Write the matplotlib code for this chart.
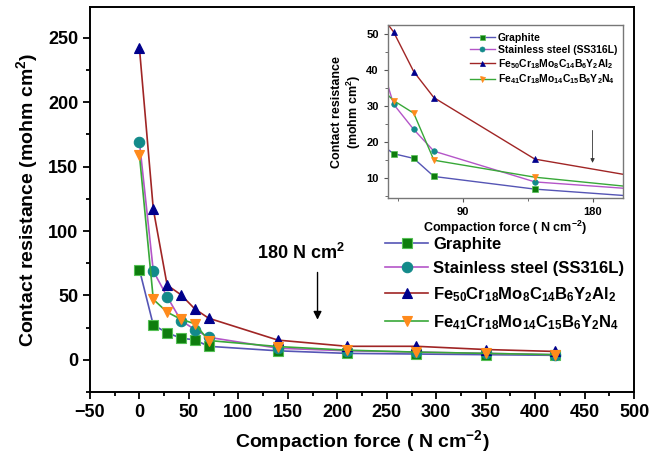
import matplotlib

matplotlib.use("Agg")
import matplotlib.pyplot as plt
from matplotlib.ticker import MultipleLocator

plt.rcParams["font.family"] = ["Liberation Sans", "DejaVu Sans"]
plt.rcParams["font.weight"] = "bold"
plt.rcParams["mathtext.fontset"] = "custom"
plt.rcParams["mathtext.rm"] = "Liberation Sans:bold"
plt.rcParams["mathtext.it"] = "Liberation Sans:bold"
plt.rcParams["mathtext.bf"] = "Liberation Sans:bold"
plt.rcParams["mathtext.default"] = "rm"

# compaction force (N cm^-2)
force = [0, 14, 28, 42, 56, 70, 140, 210, 280, 350, 420]
graphite = [70, 27, 21, 16.8, 15.5, 10.5, 7, 5, 4.5, 4, 3.5]
ss316l = [169, 69, 49, 30.5, 23.5, 17.5, 9, 7, 6, 5, 4]
fe50 = [242, 117, 58, 50.5, 39.5, 32.3, 15.3, 10.5, 10.5, 8, 6.5]
fe41 = [159, 47, 37, 31.5, 28, 15, 10.3, 7.5, 6, 5, 4]

labels = [
    "Graphite",
    "Stainless steel (SS316L)",
    r"Fe$_{50}$Cr$_{18}$Mo$_{8}$C$_{14}$B$_{6}$Y$_{2}$Al$_{2}$",
    r"Fe$_{41}$Cr$_{18}$Mo$_{14}$C$_{15}$B$_{6}$Y$_{2}$N$_{4}$",
]
series = [graphite, ss316l, fe50, fe41]
styles = [
    ("#5555b5", "s", "#0e7d0e", "#55c055"),
    ("#b455c8", "o", "#138a8a", "#138a8a"),
    ("#a02525", "^", "#00008c", "#00008c"),
    ("#38a838", "v", "#ff8a1c", "#ff8a1c"),
]

fig = plt.figure(figsize=(6.64, 4.63), dpi=100)
ax = fig.add_axes([0.1355, 0.1533, 0.8195, 0.8317])

handles = []
for values, label, (lc, mk, mfc, mec) in zip(series, labels, styles):
    (h,) = ax.plot(force, values, color=lc, lw=1.2, marker=mk, ms=7.5,
                   mfc=mfc, mec=mec, mew=0.8, label=label)
    handles.append(h)

ax.set_xlim(-50, 500)
ax.set_ylim(-25, 274)
ax.xaxis.set_major_locator(MultipleLocator(50))
ax.xaxis.set_minor_locator(MultipleLocator(25))
ax.yaxis.set_major_locator(MultipleLocator(50))
ax.yaxis.set_minor_locator(MultipleLocator(25))
ax.tick_params(which="both", direction="out", width=1.3)
ax.tick_params(which="major", length=5, labelsize=13)
ax.tick_params(which="minor", length=3)
for spine in ax.spines.values():
    spine.set_linewidth(1.4)
ax.set_xlabel(r"Compaction force ( N cm$^{-2}$)", fontsize=14,
              fontweight="bold", labelpad=5)
ax.set_ylabel(r"Contact resistance (mohm cm$^{2}$)", fontsize=14,
              fontweight="bold", labelpad=6)

ax.annotate("", xy=(180, 29), xytext=(180, 70),
            arrowprops=dict(arrowstyle="-|>", color="black", lw=1.0,
                            mutation_scale=12))
ax.text(163, 75, r"180 N cm$^{2}$", fontsize=13, fontweight="bold",
        ha="center", va="bottom")

ax.legend(handles=handles, loc="upper left", bbox_to_anchor=(0.53, 0.42),
          frameon=False, fontsize=12, handlelength=2.6, labelspacing=0.55,
          borderaxespad=0, handletextpad=0.3)

# inset
ins = fig.add_axes([0.584, 0.572, 0.354, 0.374])
for values, (lc, mk, mfc, mec) in zip(series, styles):
    ins.plot(force, values, color=lc, lw=1.0, marker=mk, ms=4,
             mfc=mfc, mec=mec, mew=0.5)
ins.set_xlim(38, 201)
ins.set_ylim(4.5, 52.4)
ins.xaxis.set_major_locator(MultipleLocator(90))
ins.xaxis.set_minor_locator(MultipleLocator(45))
ins.yaxis.set_major_locator(MultipleLocator(10))
ins.yaxis.set_minor_locator(MultipleLocator(5))
ins.tick_params(which="both", direction="out", labelsize=8, color="#555555")
ins.tick_params(which="major", length=3)
ins.tick_params(which="minor", length=2)
for spine in ins.spines.values():
    spine.set_color("#777777")
    spine.set_linewidth(1.0)
ins.set_xlabel(r"Compaction force ( N cm$^{-2}$)", fontsize=9,
               fontweight="bold", labelpad=1)
ins.set_ylabel("Contact resistance\n" + r"(mohm cm$^{2}$)", fontsize=9,
               fontweight="bold", labelpad=2)
ins.annotate("", xy=(180, 13.5), xytext=(180, 24),
             arrowprops=dict(arrowstyle="-|>", color="#333333", lw=0.6,
                             mutation_scale=6))
ins.legend(labels, loc="upper left", bbox_to_anchor=(0.33, 0.98),
           frameon=False, fontsize=7.5, handlelength=2.4, labelspacing=0.2,
           borderaxespad=0, handletextpad=0.3, markerscale=0.9)

fig.savefig("out.png", dpi=100)
